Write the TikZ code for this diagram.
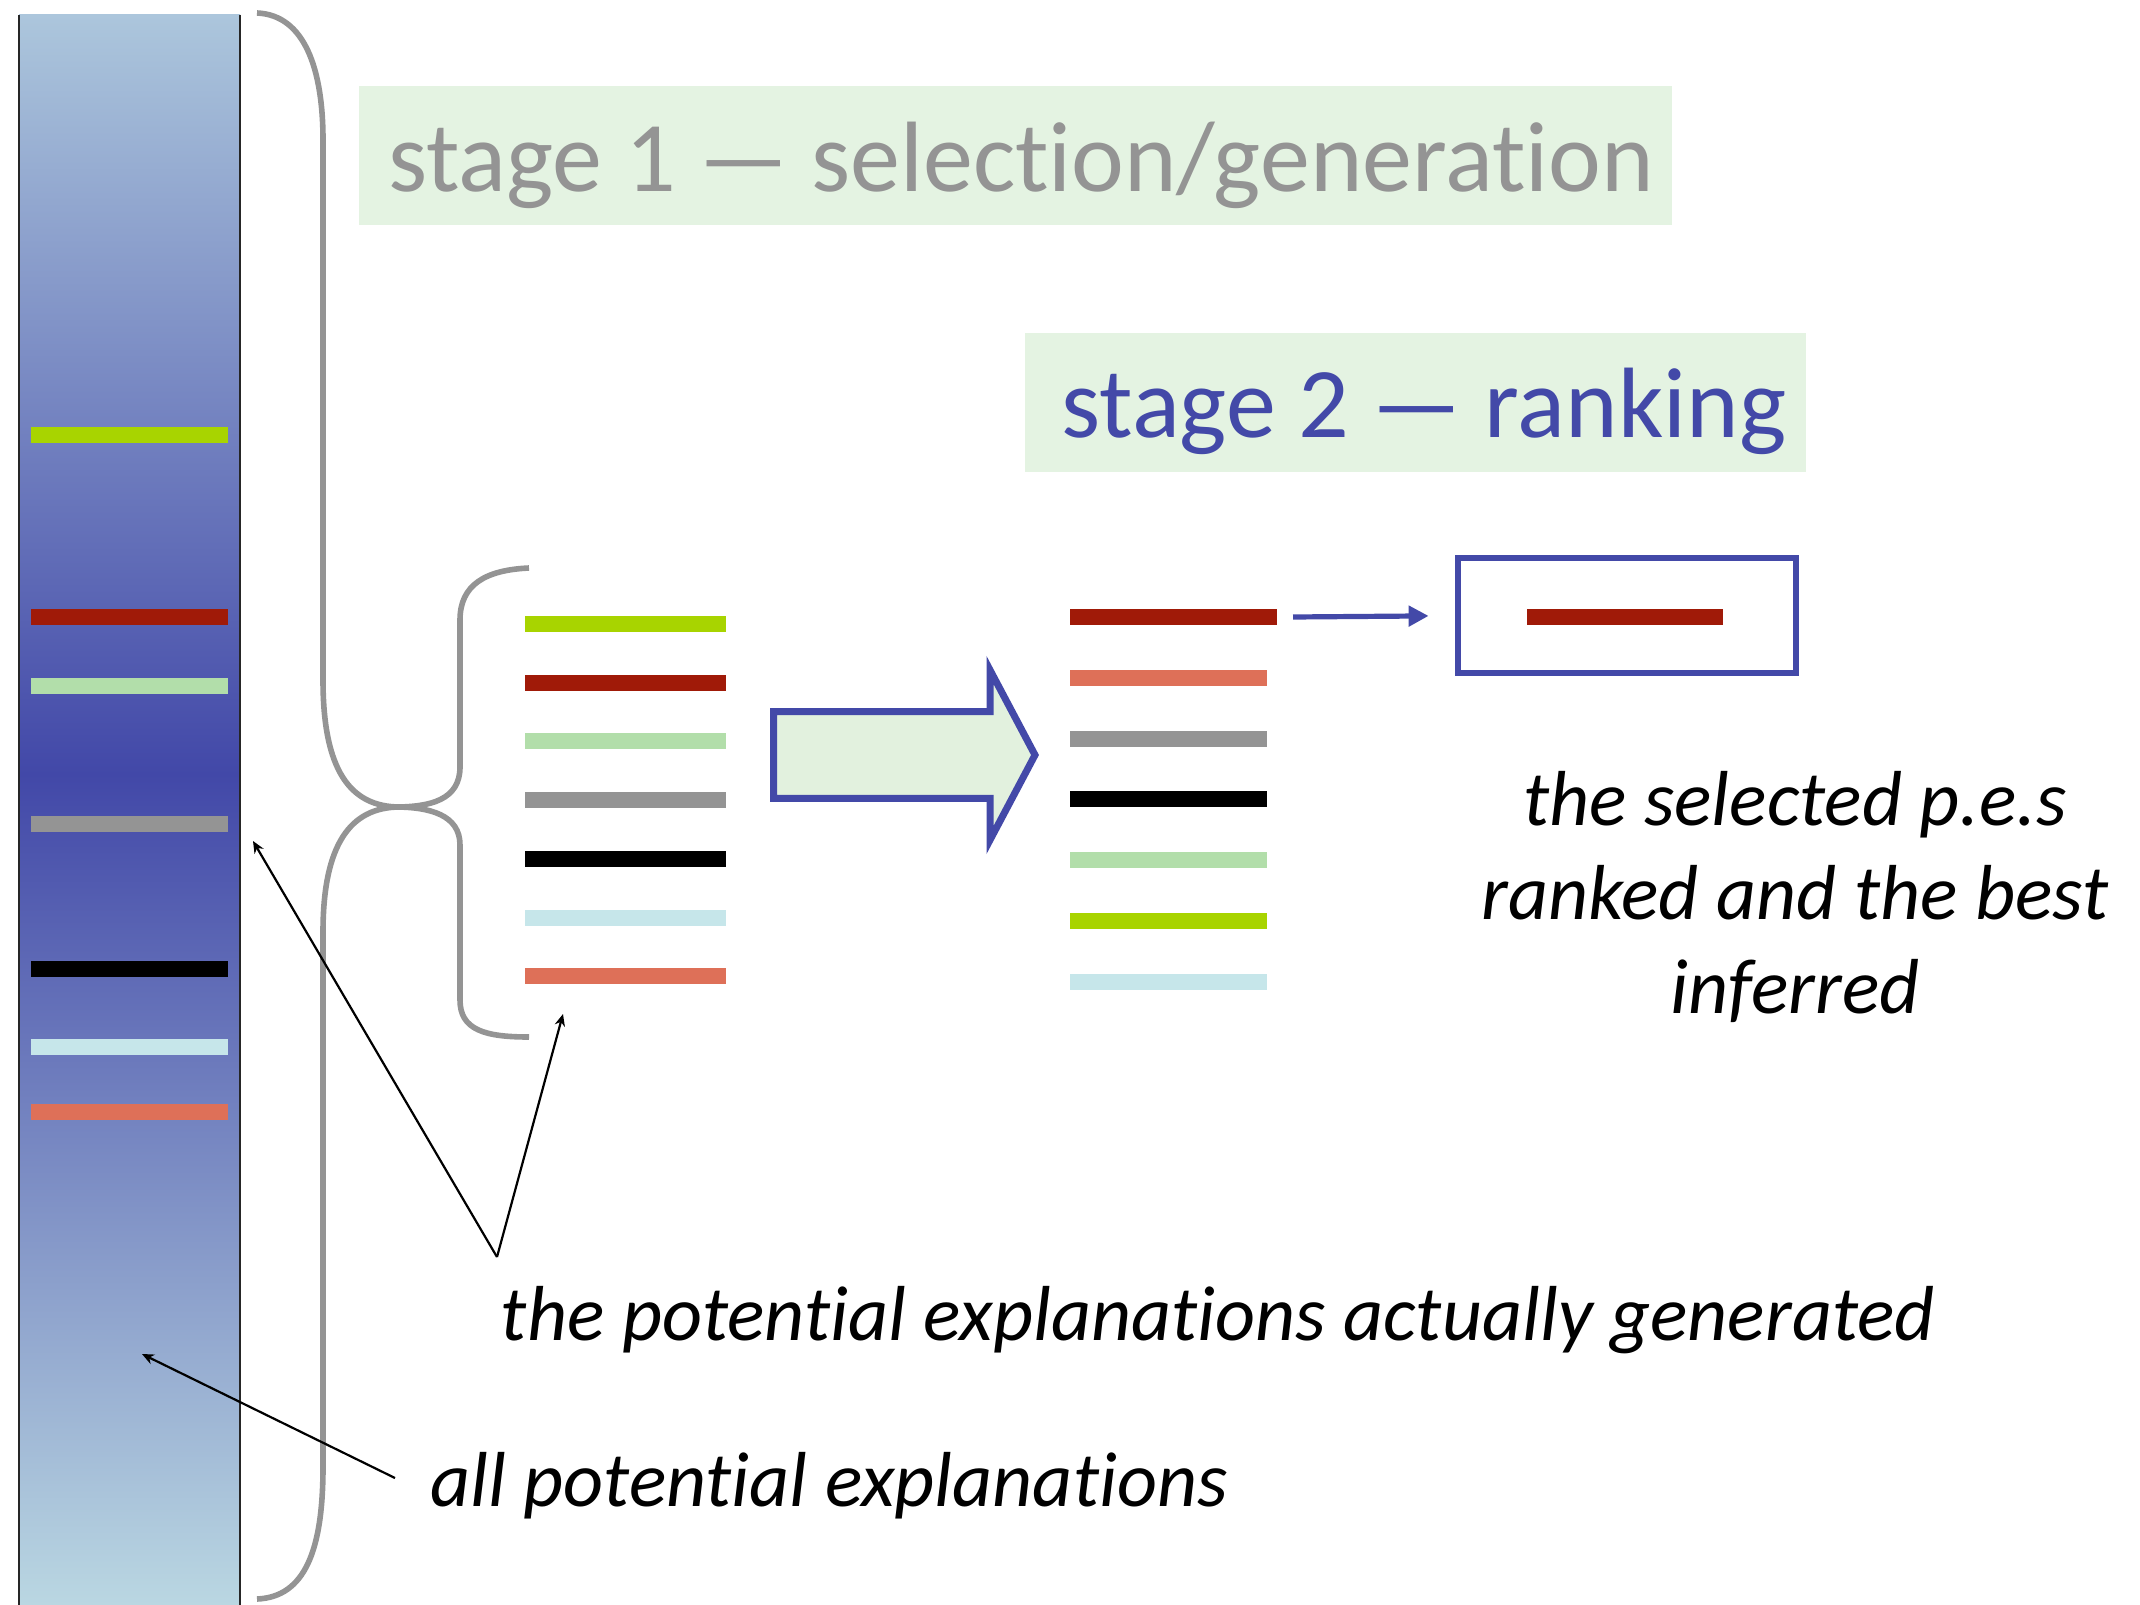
\documentclass[tikz,border=0pt]{standalone}
\usepackage{fontspec}
\setmainfont[Ligatures=NoCommon]{Carlito}
\usetikzlibrary{arrows.meta}

\definecolor{peGreen}{RGB}{168,212,0}
\definecolor{peRed}{RGB}{160,26,8}
\definecolor{peMint}{RGB}{178,222,170}
\definecolor{peGrey}{RGB}{148,148,148}
\definecolor{peCyan}{RGB}{198,230,234}
\definecolor{peSalmon}{RGB}{222,112,88}
\definecolor{stageBlue}{RGB}{67,73,168}
\definecolor{stageFill}{RGB}{228,243,226}
\definecolor{arrowFill}{RGB}{226,241,222}
\definecolor{colTop}{RGB}{172,198,220}
\definecolor{colMid}{RGB}{66,72,168}
\definecolor{colBot}{RGB}{186,215,226}

\tikzset{every picture/.style={line width=0.75pt}}
\tikzset{
  pebar/.style={line width=4pt},
  bracket/.style={draw=peGrey, line width=1.4pt},
  pointer/.style={-{Stealth[length=3pt,width=2.6pt]}, line width=0.55pt},
  note/.style={font=\fontsize{19.5}{23.5}\selectfont\itshape, inner sep=0pt},
  title/.style={font=\fontsize{25}{30}\selectfont, inner sep=0pt, anchor=base}
}

\begin{document}
\begin{tikzpicture}[x=0.25pt,y=0.25pt,yscale=-1,xscale=1]
	\useasboundingbox (0,0) rectangle (2140,1605);

	%Shape: stage boxes
	\fill [stageFill] (359,86) rectangle (1672,225);
	\fill [stageFill] (1025,333) rectangle (1806,472);
	% Text Node
	\node [title, text=peGrey] (title1) at (1021,192) {stage 1 — selection/generation};
	% Text Node
	\node [title, text=stageBlue] (title2) at (1424,437) {stage 2 — ranking};

	%Shape: column of all explanations
	\shade [top color=colTop, bottom color=colMid] (19,15) rectangle (240,774);
	\shade [top color=colMid, bottom color=colBot] (19,774) rectangle (240,1605);
	\draw [line width=0.4pt, black!85] (19,15) -- (19,1605);
	\draw [line width=0.4pt, black!85] (240,15) -- (240,1605);
	\foreach \y/\c in {435/peGreen, 617/peRed, 686/peMint, 824/peGrey, 969/black, 1047/peCyan, 1112/peSalmon}
		\draw [pebar, draw=\c] (31,\y) -- (228,\y);

	%Shape: big brace
	\draw [bracket] (257,13) .. controls (305,15) and (323,70) .. (323,140) -- (323,680)
		.. controls (323,770) and (350,807) .. (400,807)
		.. controls (350,807) and (323,845) .. (323,932) -- (323,1467)
		.. controls (323,1550) and (305,1597) .. (257,1599);
	%Shape: small brace
	\draw [bracket] (529,568) .. controls (485,570) and (460,585) .. (460,620) -- (460,767)
		.. controls (460,800) and (430,807) .. (395,807)
		.. controls (430,807) and (460,815) .. (460,845) -- (460,1000)
		.. controls (460,1030) and (485,1037) .. (529,1037);

	%Shape: generated explanations
	\foreach \c [count=\i from 0] in {peGreen,peRed,peMint,peGrey,black,peCyan,peSalmon}
		\draw [pebar, draw=\c] (525,{624+58.7*\i}) -- (726,{624+58.7*\i});

	%Shape: big arrow
	\draw [stageBlue, line width=1.75pt, fill=arrowFill, line join=miter]
		(773.7,711.7) -- (990,711.7) -- (990,670) -- (1035,755) -- (990,840) -- (990,798.3) -- (773.7,798.3) -- cycle;

	%Shape: ranked explanations
	\foreach \c/\xe [count=\i from 0] in {peRed/1277,peSalmon/1267,peGrey/1267,black/1267,peMint/1267,peGreen/1267,peCyan/1267}
		\draw [pebar, draw=\c] (1070,{617+60.8*\i}) -- (\xe,{617+60.8*\i});

	%Shape: best one
	\node [draw=stageBlue, line width=1.5pt, minimum width=84.5pt, minimum height=28.7pt, inner sep=0pt] (best) at (1626.6,615.7) {};
	\draw [pebar, peRed] (1527,617) -- (1723,617);
	\coordinate (toprank) at (1293,617);
	\draw [stageBlue, line width=1.3pt, -{Triangle[length=5pt,width=5pt]}, shorten >=6.5pt] (toprank) -- (best.west);

	% Text Node
	\node [note, anchor=base] (lblgen) at (1218,1340) {the potential explanations actually generated};
	% Text Node
	\node [note, anchor=base] (lblall) at (829,1506) {all potential explanations};
	% Text Node
	\node [note, anchor=base, align=center] (lblbest) at (1795,1013) {the selected p.e.s\\ranked and the best\\inferred};

	%Straight Lines: pointers
	\coordinate (fork) at (497,1257);
	\coordinate (colpt) at (253,841);
	\coordinate (listpt) at (563,1014);
	\coordinate (alltail) at (395,1478);
	\coordinate (allpt) at (142,1354);
	\draw [pointer] (fork) -- (colpt);
	\draw [pointer] (fork) -- (listpt);
	\draw [pointer] (alltail) -- (allpt);

\end{tikzpicture}
\end{document}
